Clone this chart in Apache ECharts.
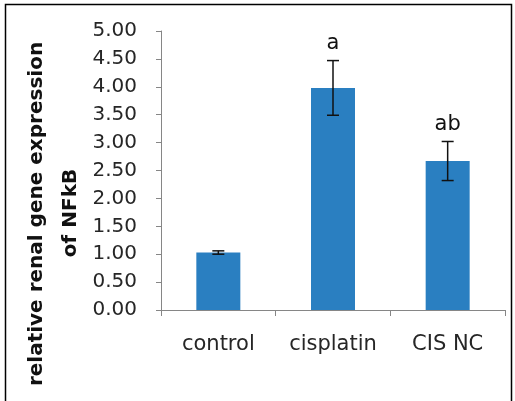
<!DOCTYPE html>
<html>
<head>
<meta charset="utf-8">
<script src="https://cdn.jsdelivr.net/npm/echarts@6/dist/echarts.min.js"></script>
<style>
  html, body { margin: 0; padding: 0; background: #fff; }
  #main { width: 515px; height: 401px; }
</style>
</head>
<body>
<div id="main"></div>
<script>
const categories = ['control', 'cisplatin', 'CIS NC'];
const means = [1.03, 3.98, 2.67];
const errors = [0.03, 0.49, 0.35];
const letters = ['', 'a', 'ab'];

const chart = echarts.init(document.getElementById('main'));

// error bar rows: [index, low, high]
const errData = means.map(function (m, i) {
  return [i, m - errors[i], m + errors[i]];
});

function renderErr(params, api) {
  const i = api.value(0);
  const lo = api.coord([i, api.value(1)]);
  const hi = api.coord([i, api.value(2)]);
  const half = 6;
  const st = { stroke: '#111', lineWidth: 1.5 };
  const kids = [
    { type: 'line', shape: { x1: lo[0], y1: lo[1], x2: hi[0], y2: hi[1] }, style: st },
    { type: 'line', shape: { x1: hi[0] - half, y1: hi[1], x2: hi[0] + half, y2: hi[1] }, style: st },
    { type: 'line', shape: { x1: lo[0] - half, y1: lo[1], x2: lo[0] + half, y2: lo[1] }, style: st }
  ];
  const t = letters[params.dataIndex];
  if (t) {
    kids.push({
      type: 'text',
      style: {
        text: t, x: hi[0], y: hi[1] - 17,
        align: 'center', verticalAlign: 'middle',
        textAlign: 'center', textVerticalAlign: 'middle',
        font: '21px "DejaVu Sans"', fill: '#111'
      }
    });
  }
  return { type: 'group', children: kids };
}

const axisGrey = '#868686';

const option = {
  animation: false,
  backgroundColor: '#fff',
  grid: { left: 161, right: 10, top: 31, bottom: 91 },
  graphic: [
    {
      type: 'rect',
      shape: { x: 5.5, y: 4.5, width: 506, height: 410 },
      style: { fill: 'none', stroke: '#000', lineWidth: 1.5 },
      silent: true
    },
    {
      type: 'text', x: 37, y: 214, rotation: Math.PI / 2,
      style: {
        text: 'relative renal gene expression',
        font: 'bold 20px "DejaVu Sans"', fill: '#111',
        align: 'center', verticalAlign: 'middle'
      }
    },
    {
      type: 'text', x: 71, y: 213, rotation: Math.PI / 2,
      style: {
        text: 'of NFkB',
        font: 'bold 20px "DejaVu Sans"', fill: '#111',
        align: 'center', verticalAlign: 'middle'
      }
    }
  ],
  xAxis: {
    type: 'category',
    data: categories,
    axisLine: { show: true, lineStyle: { color: axisGrey, width: 1 } },
    axisTick: { show: true, length: 6, lineStyle: { color: axisGrey } },
    axisLabel: {
      interval: 0,
      hideOverlap: false,
      margin: 24,
      fontFamily: 'DejaVu Sans',
      fontSize: 21,
      color: '#262626'
    }
  },
  yAxis: {
    type: 'value',
    min: 0,
    max: 5,
    interval: 0.5,
    axisLine: { show: true, lineStyle: { color: axisGrey, width: 1 } },
    axisTick: { show: true, length: 5, lineStyle: { color: axisGrey } },
    splitLine: { show: false },
    axisLabel: {
      margin: 24,
      fontFamily: 'DejaVu Sans',
      fontSize: 20,
      color: '#262626',
      formatter: function (v) { return v.toFixed(2); }
    }
  },
  series: [
    {
      type: 'bar',
      data: means,
      barWidth: 44,
      itemStyle: { color: '#2a7fc1' }
    },
    {
      type: 'custom',
      renderItem: renderErr,
      data: errData,
      z: 5
    }
  ]
};

option && chart.setOption(option);
</script>
</body>
</html>
